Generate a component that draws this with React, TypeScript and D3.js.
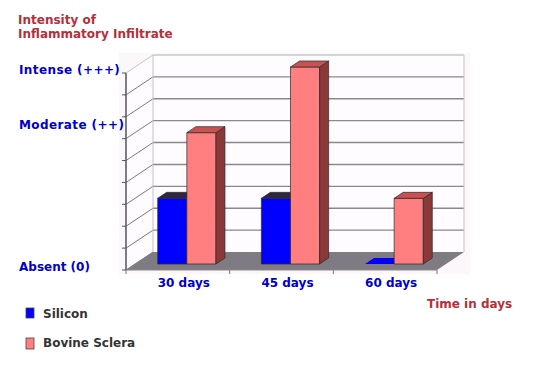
import React from "react";
import * as d3 from "d3";

const categories = ["30 days", "45 days", "60 days"];
const seriesNames = ["Silicon", "Bovine Sclera"];
const silicon = [3, 3, 0];
const bovineSclera = [6, 9, 3];
const levelTicks = [0, 1, 2, 3, 4, 5, 6, 7, 8, 9];
const levelLabels = ["Absent (0)", "Moderate (++)", "Intense (+++)"];
const levelLabelValues = [0, 6.5, 9];

const W = 538;
const H = 373;
const DX = 27; // depth offset of the back wall
const DY = -18;
const FONT = "'DejaVu Sans', Verdana, sans-serif";

const faceColors: Record<string, { front: string; top: string; side: string }> = {
  Silicon: { front: "#0000ff", top: "#2f2640", side: "#00007a" },
  "Bovine Sclera": { front: "#ff7f80", top: "#c85252", side: "#8a3838" },
};

export default function App() {
  const x = d3.scaleBand<string>().domain(categories).range([126, 437]);
  const inner = d3
    .scaleBand<string>()
    .domain(seriesNames)
    .range([0, x.bandwidth()])
    .paddingInner(0)
    .paddingOuter(0.78);
  const y = d3.scaleLinear().domain([0, 9]).range([270, 73]);

  const proj = (px: number, v: number, z: number) => [px + z * DX, y(v) + z * DY];
  const pts = (arr: number[][]) => arr.map((p) => p.join(",")).join(" ");

  const [xl, xr] = x.range();
  const values: Record<string, number[]> = { Silicon: silicon, "Bovine Sclera": bovineSclera };

  // bars sit between these depths
  const zf = 1 / 3;
  const zb = 2 / 3;

  const bars: JSX.Element[] = [];
  categories.forEach((c, ci) => {
    seriesNames.forEach((s) => {
      const v = values[s][ci];
      const bx = (x(c) ?? 0) + (inner(s) ?? 0);
      const bw = inner.bandwidth();
      const col = faceColors[s];
      const front = [proj(bx, 0, zf), proj(bx + bw, 0, zf), proj(bx + bw, v, zf), proj(bx, v, zf)];
      const top = [proj(bx, v, zf), proj(bx + bw, v, zf), proj(bx + bw, v, zb), proj(bx, v, zb)];
      const side = [proj(bx + bw, 0, zf), proj(bx + bw, 0, zb), proj(bx + bw, v, zb), proj(bx + bw, v, zf)];
      bars.push(
        <g key={c + s} stroke="#2a2a2a" strokeWidth={0.7} strokeLinejoin="round">
          {v > 0 && <polygon points={pts(front)} fill={col.front} />}
          {v > 0 && <polygon points={pts(side)} fill={col.side} />}
          <polygon points={pts(top)} fill={v > 0 ? col.top : col.front} stroke={v > 0 ? "#2a2a2a" : "none"} />
        </g>
      );
    });
  });

  const wallFill = "#fefcfe";

  return (
    <svg
      width={W}
      height={H}
      style={{ position: "absolute", left: 0, top: 0, background: "#ffffff" }}
      fontFamily={FONT}
    >
      {/* light plot panel */}
      <rect x={119} y={53} width={351} height={221} fill="#fbf7fb" />

      {/* back wall */}
      <polygon
        points={pts([proj(xl, 0, 1), proj(xr, 0, 1), proj(xr, 9, 1), proj(xl, 9, 1)])}
        fill={wallFill}
      />
      {/* left wall */}
      <polygon
        points={pts([proj(xl, 0, 0), proj(xl, 0, 1), proj(xl, 9, 1), proj(xl, 9, 0)])}
        fill={wallFill}
      />

      {/* grid lines on walls */}
      {levelTicks.map((t) => {
        const [ax, ay] = proj(xl, t, 0);
        const [bx, by] = proj(xl, t, 1);
        const [cx, cy] = proj(xr, t, 1);
        const light = t === 9;
        return (
          <g key={"g" + t} fill="none">
            <line x1={ax} y1={ay} x2={bx} y2={by} stroke={light ? "#c4c4c4" : "#7a7a7a"} strokeWidth={1} />
            {t > 0 && (
              <line x1={bx} y1={by} x2={cx} y2={cy} stroke={light ? "#c8c8c8" : "#8a8a8a"} strokeWidth={1.4} />
            )}
          </g>
        );
      })}
      {/* back wall vertical edges */}
      <line x1={proj(xl, 0, 1)[0]} y1={proj(xl, 0, 1)[1]} x2={proj(xl, 9, 1)[0]} y2={proj(xl, 9, 1)[1]} stroke="#c4c4c4" />
      <line x1={proj(xr, 0, 1)[0]} y1={proj(xr, 0, 1)[1]} x2={proj(xr, 9, 1)[0]} y2={proj(xr, 9, 1)[1]} stroke="#c4c4c4" />

      {/* floor */}
      <polygon
        points={pts([proj(xl, 0, 0), proj(xr, 0, 0), proj(xr, 0, 1), proj(xl, 0, 1)])}
        fill="#7f7b83"
      />

      {bars}

      {/* front vertical axis */}
      <line x1={xl} y1={y(0)} x2={xl} y2={y(9)} stroke="#555" strokeWidth={1.5} />
      {levelTicks.map((t) => (
        <line key={"t" + t} x1={xl - 4} y1={y(t)} x2={xl} y2={y(t)} stroke="#555" strokeWidth={1} />
      ))}

      {/* front floor edge and category ticks */}
      <line x1={xl} y1={y(0)} x2={xr} y2={y(0)} stroke="#8a8a8a" strokeWidth={1.2} />
      {[...categories.map((c) => x(c) ?? 0), xr].map((px, i) => (
        <line key={"ct" + i} x1={px} y1={y(0)} x2={px} y2={y(0) + 4} stroke="#777" strokeWidth={1} />
      ))}

      {/* category labels */}
      {categories.map((c) => (
        <text
          key={"cl" + c}
          x={(x(c) ?? 0) + x.bandwidth() / 2 + 6}
          y={287}
          textAnchor="middle"
          fontSize={12}
          fontWeight="bold"
          fill="#0000cc"
        >
          {c}
        </text>
      ))}

      {/* level labels */}
      {levelLabels.map((l, i) => (
        <text
          key={"ll" + l}
          x={19}
          y={y(levelLabelValues[i]) + 1}
          fontSize={12}
          fontWeight="bold"
          fill="#0000cc"
          letterSpacing={i === 0 ? 0 : 0.4}
        >
          {l}
        </text>
      ))}

      {/* axis titles */}
      <text x={18} y={24} fontSize={12} fontWeight="bold" fill="#b3303a">
        Intensity of
      </text>
      <text x={18} y={37.5} fontSize={12} fontWeight="bold" fill="#b3303a">
        Inflammatory Infiltrate
      </text>
      <text x={427} y={307.5} fontSize={12} fontWeight="bold" fill="#b3303a">
        Time in days
      </text>

      {/* legend */}
      {seriesNames.map((s, i) => (
        <g key={"lg" + s}>
          <rect
            x={26}
            y={308 + i * 30}
            width={8}
            height={10 + i}
            fill={faceColors[s].front}
            stroke="#444"
            strokeWidth={0.8}
          />
          <text x={43} y={318 + i * 29} fontSize={12} fontWeight="bold" fill="#333">
            {s}
          </text>
        </g>
      ))}
    </svg>
  );
}
